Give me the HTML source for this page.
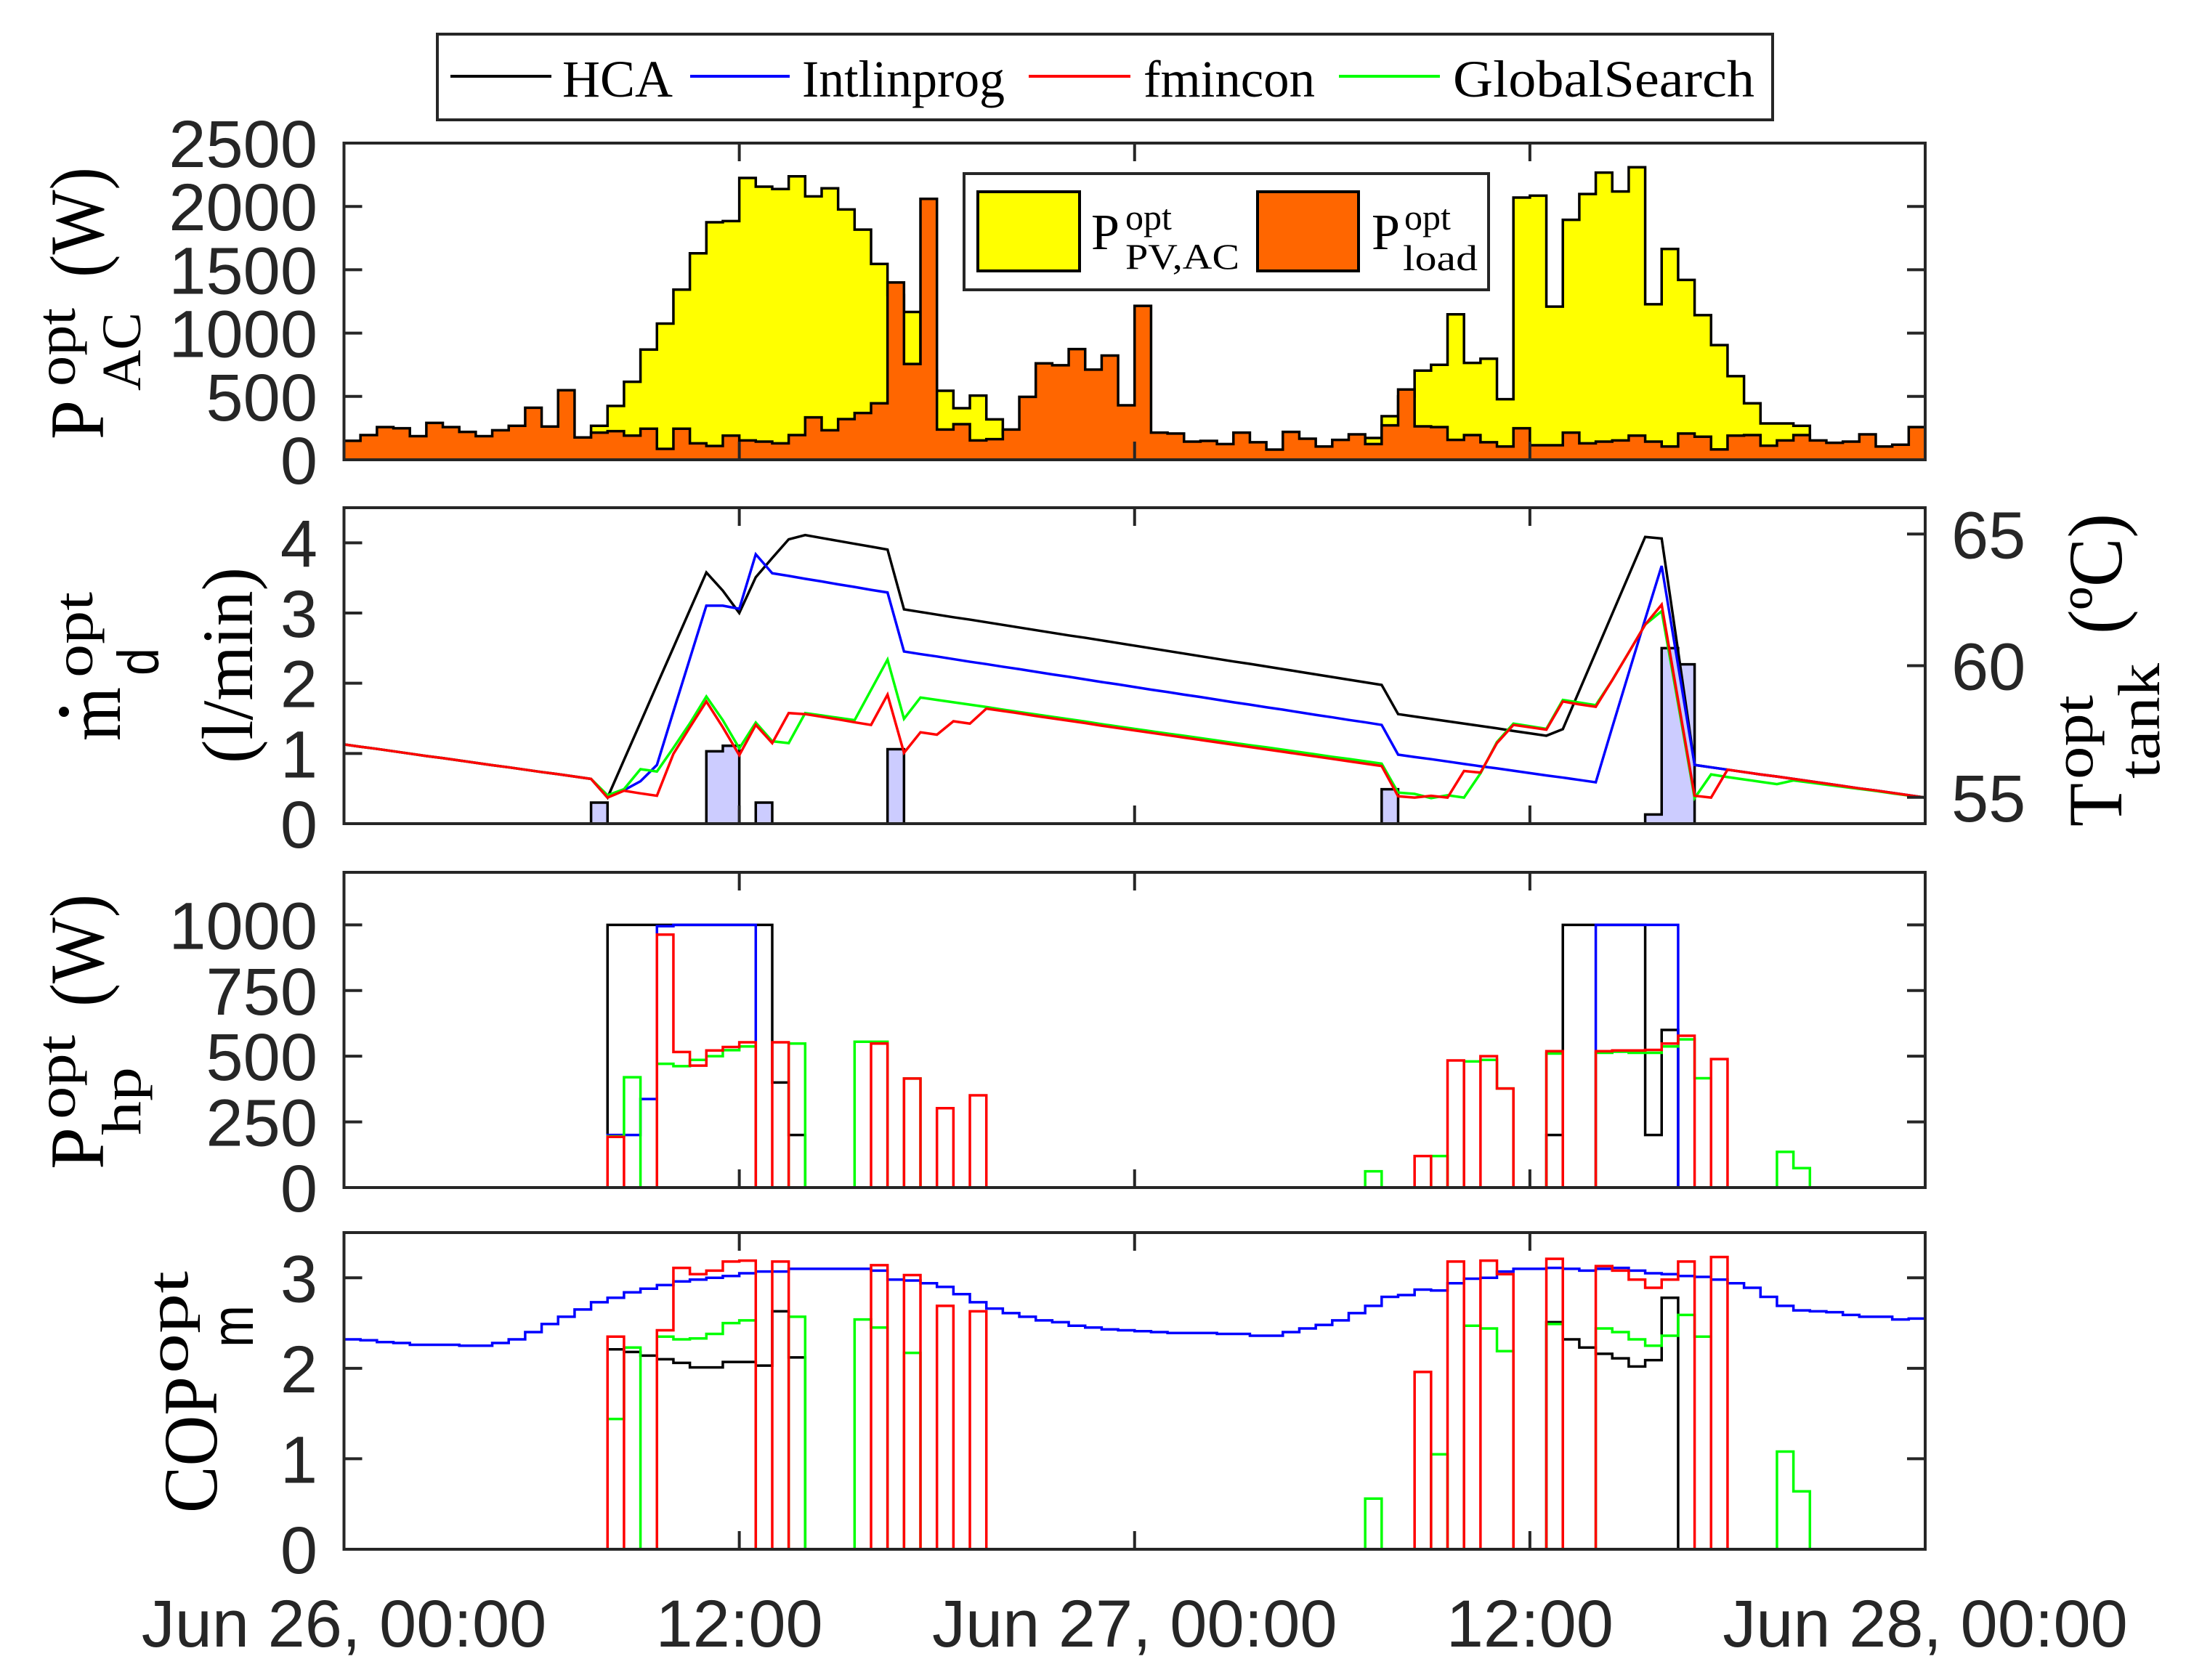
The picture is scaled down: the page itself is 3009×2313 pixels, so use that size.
<!DOCTYPE html>
<html><head><meta charset="utf-8"><title>HP optimisation chart</title>
<style>
html,body{margin:0;padding:0;background:#fff;}
svg{display:block;}
.tk{font-family:"Liberation Sans",sans-serif;font-size:92px;fill:#262626;}
.sf{font-family:"Liberation Serif",serif;fill:#000;}
.ss{font-family:"Liberation Sans",sans-serif;fill:#000;}
</style></head>
<body>
<svg id="chart" xmlns="http://www.w3.org/2000/svg" width="3009" height="2313" viewBox="0 0 3009 2313">
<rect x="0" y="0" width="3009" height="2313" fill="#fff"/>
<g id="plots"></g>
<g id="axes"></g>

<!-- top legend -->
<g>
<rect x="602" y="47" width="1838" height="118" fill="#fff" stroke="#262626" stroke-width="4"/>
<line x1="620" y1="105" x2="759" y2="105" stroke="#000" stroke-width="4"/>
<text class="sf" x="774" y="133" font-size="72" textLength="152" lengthAdjust="spacingAndGlyphs">HCA</text>
<line x1="950" y1="105" x2="1087" y2="105" stroke="#0000ff" stroke-width="4"/>
<text class="sf" x="1104" y="133" font-size="72" textLength="279" lengthAdjust="spacingAndGlyphs">Intlinprog</text>
<line x1="1416" y1="105" x2="1556" y2="105" stroke="#ff0000" stroke-width="4"/>
<text class="sf" x="1574" y="133" font-size="72" textLength="236" lengthAdjust="spacingAndGlyphs">fmincon</text>
<line x1="1843" y1="105" x2="1982" y2="105" stroke="#00ff00" stroke-width="4"/>
<text class="sf" x="2000" y="133" font-size="72" textLength="415" lengthAdjust="spacingAndGlyphs">GlobalSearch</text>
</g>

<!-- panel 1 inner legend -->
<g>
<rect x="1327" y="239" width="722" height="160" fill="#fff" stroke="#262626" stroke-width="4"/>
<rect x="1346" y="264" width="140" height="109" fill="#ffff00" stroke="#000" stroke-width="4"/>
<text class="sf" x="1502" y="343" font-size="70">P</text>
<text class="sf" x="1549" y="316" font-size="50">opt</text>
<text class="sf" x="1549" y="370" font-size="50" textLength="157" lengthAdjust="spacingAndGlyphs">PV,AC</text>
<rect x="1731" y="264" width="139" height="109" fill="#ff6600" stroke="#000" stroke-width="4"/>
<text class="sf" x="1888" y="343" font-size="70">P</text>
<text class="sf" x="1933" y="316" font-size="50">opt</text>
<text class="sf" x="1931" y="372" font-size="50" textLength="103" lengthAdjust="spacingAndGlyphs">load</text>
</g>

<!-- y axis titles -->
<g transform="translate(142,605) rotate(-90)">
<text class="sf" x="0" y="0" font-size="106" textLength="54" lengthAdjust="spacingAndGlyphs">P</text>
<text class="sf" x="73" y="-39" font-size="76" textLength="108" lengthAdjust="spacingAndGlyphs">opt</text>
<text class="sf" x="67" y="51" font-size="76" textLength="108" lengthAdjust="spacingAndGlyphs">AC</text>
<text class="sf" x="223" y="0" font-size="106" textLength="152" lengthAdjust="spacingAndGlyphs">(W)</text>
</g>
<g transform="translate(165,1020) rotate(-90)">
<text class="sf" x="0" y="0" font-size="106" textLength="74" lengthAdjust="spacingAndGlyphs">m</text>
<text class="sf" x="87" y="-38" font-size="76" textLength="118" lengthAdjust="spacingAndGlyphs">opt</text>
<text class="ss" x="90" y="53" font-size="80" textLength="38" lengthAdjust="spacingAndGlyphs">d</text>
</g>
<circle cx="88" cy="980" r="7" fill="#000"/>
<g transform="translate(347,1051) rotate(-90)">
<text class="sf" x="0" y="0" font-size="100" textLength="270" lengthAdjust="spacingAndGlyphs">(l/min)</text>
</g>
<g transform="translate(2920,1138) rotate(-90)">
<text class="sf" x="0" y="0" font-size="106" textLength="60" lengthAdjust="spacingAndGlyphs">T</text>
<text class="sf" x="65" y="-40" font-size="78" textLength="116" lengthAdjust="spacingAndGlyphs">opt</text>
<text class="sf" x="66" y="52" font-size="82" textLength="159" lengthAdjust="spacingAndGlyphs">tank</text>
<text class="sf" x="265" y="0" font-size="106" textLength="166" lengthAdjust="spacingAndGlyphs">(ºC)</text>
</g>
<g transform="translate(142,1610) rotate(-90)">
<text class="sf" x="0" y="0" font-size="106" textLength="58" lengthAdjust="spacingAndGlyphs">P</text>
<text class="sf" x="69" y="-39" font-size="76" textLength="116" lengthAdjust="spacingAndGlyphs">opt</text>
<text class="sf" x="47" y="51" font-size="76" textLength="94" lengthAdjust="spacingAndGlyphs">hp</text>
<text class="sf" x="224" y="0" font-size="106" textLength="155" lengthAdjust="spacingAndGlyphs">(W)</text>
</g>
<g transform="translate(298,2083) rotate(-90)">
<text class="sf" x="0" y="0" font-size="106" textLength="188" lengthAdjust="spacingAndGlyphs">COP</text>
<text class="sf" x="192" y="-40" font-size="80" textLength="141" lengthAdjust="spacingAndGlyphs">opt</text>
<text class="ss" x="228" y="50" font-size="82" textLength="58" lengthAdjust="spacingAndGlyphs">m</text>
</g>

<script>
// ---------- data ----------
const xTickIdx = [0, 24, 48, 72, 96];
const xTickLabels = ["Jun 26, 00:00", "12:00", "Jun 27, 00:00", "12:00", "Jun 28, 00:00"];
const p1Ticks = [0, 500, 1000, 1500, 2000, 2500];
const p2LeftTicks = [0, 1, 2, 3, 4];
const p2RightTicks = [55, 60, 65];
const p3Ticks = [0, 250, 500, 750, 1000];
const p4Ticks = [0, 1, 2, 3];

const pvPower = [0,0,0,0,0,0,0,0,0,0,0,0,0,0,0,268,425,616,870,1075,1343,1630,1875,1884,2225,2156,2137,2238,2079,2143,1976,1817,1546,1300,1167,700,545,407,507,319,200,80,30,0,0,0,0,0,0,0,0,0,0,0,0,0,0,0,0,0,0,0,172,344,500,704,750,1148,765,798,478,2070,2085,1209,1894,2098,2267,2118,2309,1228,1664,1420,1142,905,660,446,287,287,268,120,0,0,0,0,0,0];
const loadPower = [150,195,258,249,186,291,258,220,186,233,268,411,262,549,176,214,226,191,245,86,245,130,109,191,153,143,130,195,335,233,321,369,446,1400,756,2060,239,281,153,163,239,497,761,746,874,712,823,430,1215,214,207,143,149,124,214,138,80,220,166,105,157,201,124,272,555,264,258,157,195,138,105,249,115,115,214,130,143,153,191,143,105,207,182,82,191,195,111,153,195,153,134,143,201,105,119,258];

const flowBars = [0,0,0,0,0,0,0,0,0,0,0,0,0,0,0,0.30,0,0,0,0,0,0,1.03,1.11,0,0.30,0,0,0,0,0,0,0,1.06,0,0,0,0,0,0,0,0,0,0,0,0,0,0,0,0,0,0,0,0,0,0,0,0,0,0,0,0,0,0.49,0,0,0,0,0,0,0,0,0,0,0,0,0,0,0,0.13,2.50,2.27,0,0,0,0,0,0,0,0,0,0,0,0,0,0];

const tankHCA = [57.01,56.92,56.84,56.75,56.66,56.57,56.49,56.40,56.31,56.22,56.14,56.05,55.96,55.88,55.79,55.70,54.99,56.42,57.84,59.27,60.69,62.12,63.54,62.85,62.00,63.36,64.09,64.80,64.96,64.85,64.74,64.63,64.52,64.41,62.14,62.04,61.94,61.84,61.75,61.65,61.55,61.45,61.35,61.25,61.15,61.06,60.96,60.86,60.76,60.66,60.56,60.46,60.36,60.26,60.16,60.07,59.97,59.87,59.77,59.67,59.57,59.47,59.37,59.27,58.16,58.07,57.98,57.89,57.80,57.71,57.62,57.52,57.43,57.34,57.59,59.05,60.51,61.97,63.43,64.89,64.83,60.55,56.23,56.14,56.05,55.96,55.87,55.79,55.70,55.61,55.52,55.43,55.34,55.26,55.17,55.08,54.99];
const tankIntlinprog = [57.01,56.92,56.84,56.75,56.66,56.57,56.49,56.40,56.31,56.22,56.14,56.05,55.96,55.88,55.79,55.70,55.02,55.27,55.61,56.23,58.26,60.27,62.28,62.28,62.16,64.23,63.51,63.41,63.30,63.20,63.09,62.99,62.88,62.78,60.54,60.44,60.35,60.25,60.15,60.06,59.96,59.87,59.77,59.67,59.58,59.48,59.38,59.29,59.19,59.09,59.00,58.90,58.81,58.71,58.61,58.52,58.42,58.33,58.23,58.13,58.04,57.94,57.85,57.75,56.62,56.53,56.45,56.36,56.27,56.18,56.10,56.01,55.92,55.83,55.75,55.66,55.57,57.66,59.72,61.77,63.79,60.00,56.23,56.14,56.05,55.96,55.87,55.79,55.70,55.61,55.52,55.43,55.34,55.26,55.17,55.08,54.99];
const tankFmincon = [57.01,56.92,56.84,56.75,56.66,56.57,56.49,56.40,56.31,56.22,56.14,56.05,55.96,55.88,55.79,55.70,54.99,55.25,55.15,55.06,56.65,57.66,58.64,57.66,56.60,57.75,57.06,58.20,58.16,58.06,57.96,57.85,57.75,58.90,56.69,57.47,57.38,57.89,57.80,58.37,58.28,58.19,58.09,58.00,57.91,57.82,57.72,57.63,57.54,57.45,57.36,57.27,57.18,57.09,57.00,56.91,56.82,56.73,56.64,56.55,56.46,56.37,56.28,56.19,55.04,54.99,55.06,54.99,56.00,55.94,57.06,57.75,57.66,57.57,58.64,58.53,58.44,59.45,60.50,61.56,62.32,58.69,55.06,54.99,56.05,55.96,55.87,55.79,55.70,55.61,55.52,55.43,55.34,55.26,55.17,55.08,54.99];
const tankGlobalSearch = [57.01,56.92,56.84,56.75,56.66,56.57,56.49,56.40,56.31,56.22,56.14,56.05,55.96,55.88,55.79,55.70,55.08,55.31,56.07,55.98,56.88,57.81,58.83,57.93,56.86,57.84,57.13,57.06,58.20,58.11,58.02,57.93,59.08,60.23,57.98,58.79,58.70,58.61,58.52,58.43,58.33,58.24,58.15,58.06,57.97,57.88,57.78,57.69,57.60,57.51,57.42,57.34,57.25,57.16,57.07,56.98,56.90,56.81,56.72,56.63,56.54,56.46,56.37,56.28,55.18,55.13,54.97,55.08,54.99,55.91,57.10,57.80,57.70,57.60,58.70,58.60,58.50,59.45,60.50,61.56,62.07,58.55,54.97,55.87,55.77,55.68,55.59,55.50,55.64,55.56,55.48,55.40,55.32,55.24,55.15,55.07,54.99];

const hpHCA = [0,0,0,0,0,0,0,0,0,0,0,0,0,0,0,0,1000,1000,1000,1000,1000,1000,1000,1000,1000,1000,400,200,0,0,0,0,0,0,0,0,0,0,0,0,0,0,0,0,0,0,0,0,0,0,0,0,0,0,0,0,0,0,0,0,0,0,0,0,0,0,0,0,0,0,0,0,0,200,1000,1000,1000,1000,1000,200,600,0,0,0,0,0,0,0,0,0,0,0,0,0,0,0];
const hpIntlinprog = [0,0,0,0,0,0,0,0,0,0,0,0,0,0,0,0,200,200,337,995,1000,1000,1000,1000,1000,0,0,0,0,0,0,0,0,0,0,0,0,0,0,0,0,0,0,0,0,0,0,0,0,0,0,0,0,0,0,0,0,0,0,0,0,0,0,0,0,0,0,0,0,0,0,0,0,0,0,0,1000,1000,1000,1000,1000,0,0,0,0,0,0,0,0,0,0,0,0,0,0,0];
const hpFmincon = [0,0,0,0,0,0,0,0,0,0,0,0,0,0,0,0,193,0,0,963,516,464,522,535,553,0,553,0,0,0,0,0,548,0,415,0,302,0,351,0,0,0,0,0,0,0,0,0,0,0,0,0,0,0,0,0,0,0,0,0,0,0,0,0,0,120,0,484,0,500,377,0,0,519,0,0,519,522,522,524,548,578,0,489,0,0,0,0,0,0,0,0,0,0,0,0];
const hpGlobalSearch = [0,0,0,0,0,0,0,0,0,0,0,0,0,0,0,0,195,420,0,471,462,486,500,523,537,0,0,548,0,0,0,555,555,0,415,0,0,0,0,0,0,0,0,0,0,0,0,0,0,0,0,0,0,0,0,0,0,0,0,0,0,0,62,0,0,0,120,0,480,486,377,0,0,510,0,0,513,517,513,513,537,564,416,0,0,0,0,136,74,0,0,0,0,0,0,0];

const copHCA = [0,0,0,0,0,0,0,0,0,0,0,0,0,0,0,0,2.21,2.18,2.14,2.10,2.06,2.01,2.01,2.07,2.07,2.03,2.63,2.12,0,0,0,0,0,0,0,0,0,0,0,0,0,0,0,0,0,0,0,0,0,0,0,0,0,0,0,0,0,0,0,0,0,0,0,0,0,0,0,0,0,0,0,0,0,2.51,2.32,2.23,2.16,2.11,2.02,2.09,2.78,0,0,0,0,0,0,0,0,0,0,0,0,0,0,0];
const copIntlinprog = [2.32,2.31,2.29,2.28,2.26,2.26,2.26,2.25,2.25,2.28,2.32,2.40,2.49,2.57,2.65,2.73,2.78,2.84,2.88,2.92,2.96,2.98,3.00,3.02,3.05,3.07,3.07,3.10,3.10,3.10,3.10,3.10,3.08,2.98,2.97,2.94,2.90,2.82,2.73,2.66,2.61,2.57,2.53,2.51,2.47,2.45,2.43,2.42,2.41,2.40,2.39,2.39,2.39,2.38,2.38,2.36,2.36,2.40,2.44,2.48,2.53,2.61,2.69,2.79,2.81,2.87,2.86,2.94,2.99,3.00,3.07,3.10,3.10,3.11,3.10,3.08,3.10,3.11,3.08,3.05,3.04,3.02,3.01,2.98,2.94,2.89,2.79,2.69,2.64,2.63,2.62,2.59,2.57,2.57,2.54,2.55];
const copFmincon = [0,0,0,0,0,0,0,0,0,0,0,0,0,0,0,0,2.35,0,0,2.42,3.11,3.04,3.08,3.18,3.19,0,3.18,0,0,0,0,0,3.14,0,3.03,0,2.69,0,2.63,0,0,0,0,0,0,0,0,0,0,0,0,0,0,0,0,0,0,0,0,0,0,0,0,0,0,1.96,0,3.18,0,3.19,3.04,0,0,3.21,0,0,3.13,3.08,2.98,2.89,2.98,3.18,0,3.23,0,0,0,0,0,0,0,0,0,0,0,0];
const copGlobalSearch = [0,0,0,0,0,0,0,0,0,0,0,0,0,0,0,0,1.44,2.23,0,2.35,2.32,2.33,2.38,2.50,2.53,0,0,2.57,0,0,0,2.54,2.45,0,2.17,0,0,0,0,0,0,0,0,0,0,0,0,0,0,0,0,0,0,0,0,0,0,0,0,0,0,0,0.56,0,0,0,1.05,0,2.47,2.44,2.19,0,0,2.49,0,0,2.44,2.40,2.32,2.25,2.36,2.59,2.35,0,0,0,0,1.08,0.64,0,0,0,0,0,0,0];

// ---------- geometry / axis functions ----------
const L = 473.5, R = 2650, NSTEP = 96;
const P1 = {top: 197, bot: 633, max: 2500};
const P2 = {top: 699, bot: 1134, max: 4.5, tmin: 54, tmax: 66};
const P3 = {top: 1201, bot: 1635, max: 1200};
const P4 = {top: 1697, bot: 2133, max: 3.5};
function X(k) { return L + k * (R - L) / NSTEP; }
function y1(v) { return P1.bot - v / P1.max * (P1.bot - P1.top); }
function y2(v) { return P2.bot - v / P2.max * (P2.bot - P2.top); }
function y2r(t) { return P2.bot - (t - P2.tmin) / (P2.tmax - P2.tmin) * (P2.bot - P2.top); }
function y3(v) { return P3.bot - v / P3.max * (P3.bot - P3.top); }
function y4(v) { return P4.bot - v / P4.max * (P4.bot - P4.top); }

const NS = "http://www.w3.org/2000/svg";
const plots = document.getElementById("plots");
const axes = document.getElementById("axes");

function stairsD(vals, yf) {
  let d = "M" + X(0) + "," + yf(vals[0]);
  for (let i = 0; i < vals.length; i++) {
    d += "H" + X(i + 1);
    if (i + 1 < vals.length) d += "V" + yf(vals[i + 1]);
  }
  return d;
}
function areaD(vals, yf, base) {
  let d = "M" + X(0) + "," + base + "V" + yf(vals[0]);
  for (let i = 0; i < vals.length; i++) {
    d += "H" + X(i + 1);
    if (i + 1 < vals.length) d += "V" + yf(vals[i + 1]);
  }
  return d + "V" + base + "Z";
}
function lineD(vals, yf) {
  let d = "";
  for (let k = 0; k < vals.length; k++) d += (k ? "L" : "M") + X(k) + "," + yf(vals[k]);
  return d;
}
function addPath(parent, d, stroke, fill, name) {
  const el = document.createElementNS(NS, "path");
  el.setAttribute("d", d);
  el.setAttribute("stroke", stroke);
  el.setAttribute("fill", fill);
  el.setAttribute("stroke-width", "3.5");
  el.setAttribute("stroke-linejoin", "miter");
  
  
  parent.appendChild(el);
  return el;
}

// panel 1
addPath(plots, areaD(pvPower, y1, P1.bot), "#000", "#ffff00", "pv-power-area");
addPath(plots, areaD(loadPower, y1, P1.bot), "#000", "#ff6600", "load-power-area");
// panel 2
addPath(plots, areaD(flowBars, y2, P2.bot), "#000", "#ccccff", "flow-bars");
addPath(plots, lineD(tankHCA, y2r), "#000000", "none", "tank-temp-hca");
addPath(plots, lineD(tankIntlinprog, y2r), "#0000ff", "none", "tank-temp-intlinprog");
addPath(plots, lineD(tankGlobalSearch, y2r), "#00ff00", "none", "tank-temp-globalsearch");
addPath(plots, lineD(tankFmincon, y2r), "#ff0000", "none", "tank-temp-fmincon");
// panel 3
addPath(plots, stairsD(hpHCA, y3), "#000000", "none", "hp-power-hca");
addPath(plots, stairsD(hpIntlinprog, y3), "#0000ff", "none", "hp-power-intlinprog");
addPath(plots, stairsD(hpGlobalSearch, y3), "#00ff00", "none", "hp-power-globalsearch");
addPath(plots, stairsD(hpFmincon, y3), "#ff0000", "none", "hp-power-fmincon");
// panel 4
addPath(plots, stairsD(copHCA, y4), "#000000", "none", "cop-hca");
addPath(plots, stairsD(copIntlinprog, y4) + "V" + y4(0), "#0000ff", "none", "cop-intlinprog");
addPath(plots, stairsD(copGlobalSearch, y4), "#00ff00", "none", "cop-globalsearch");
addPath(plots, stairsD(copFmincon, y4), "#ff0000", "none", "cop-fmincon");

// ---------- axes ----------
const TL = 25;
function addLine(x1, y1_, x2, y2_, name) {
  const el = document.createElementNS(NS, "line");
  el.setAttribute("x1", x1); el.setAttribute("y1", y1_);
  el.setAttribute("x2", x2); el.setAttribute("y2", y2_);
  el.setAttribute("stroke", "#262626");
  el.setAttribute("stroke-width", "4");
  
  
  axes.appendChild(el);
}
function addText(x, y, str, anchor, name) {
  const el = document.createElementNS(NS, "text");
  el.setAttribute("x", x); el.setAttribute("y", y);
  el.setAttribute("class", "tk");
  el.setAttribute("text-anchor", anchor);
  el.textContent = str;
  
  
  axes.appendChild(el);
}
function frame(P, name) {
  const el = document.createElementNS(NS, "rect");
  el.setAttribute("x", L); el.setAttribute("y", P.top);
  el.setAttribute("width", R - L); el.setAttribute("height", P.bot - P.top);
  el.setAttribute("fill", "none"); el.setAttribute("stroke", "#262626");
  el.setAttribute("stroke-width", "4");
  
  
  axes.appendChild(el);
  for (const k of xTickIdx) {
    addLine(X(k), P.top, X(k), P.top + TL, "x-tick");
    addLine(X(k), P.bot, X(k), P.bot - TL, "x-tick");
  }
}
function yTicks(ticks, yf, left, right, labelLeft, labelRight, name) {
  for (const v of ticks) {
    const y = yf(v);
    if (left) addLine(L, y, L + TL, y, name + "-tick");
    if (right) addLine(R, y, R - TL, y, name + "-tick");
    if (labelLeft) addText(437, y + 33, String(v), "end", name + "-label");
    if (labelRight) addText(2686, y + 33, String(v), "start", name + "-label");
  }
}
frame(P1, "power-axes");
yTicks(p1Ticks, y1, true, true, true, false, "power-y");
frame(P2, "flow-axes");
yTicks(p2LeftTicks, y2, true, false, true, false, "flow-y");
yTicks(p2RightTicks, y2r, false, true, false, true, "tank-temp-y");
frame(P3, "hp-power-axes");
yTicks(p3Ticks, y3, true, true, true, false, "hp-power-y");
frame(P4, "cop-axes");
yTicks(p4Ticks, y4, true, true, true, false, "cop-y");
for (let i = 0; i < xTickIdx.length; i++) {
  addText(X(xTickIdx[i]), 2267, xTickLabels[i], "middle", "x-tick-label");
}
</script>
</svg>
</body></html>
